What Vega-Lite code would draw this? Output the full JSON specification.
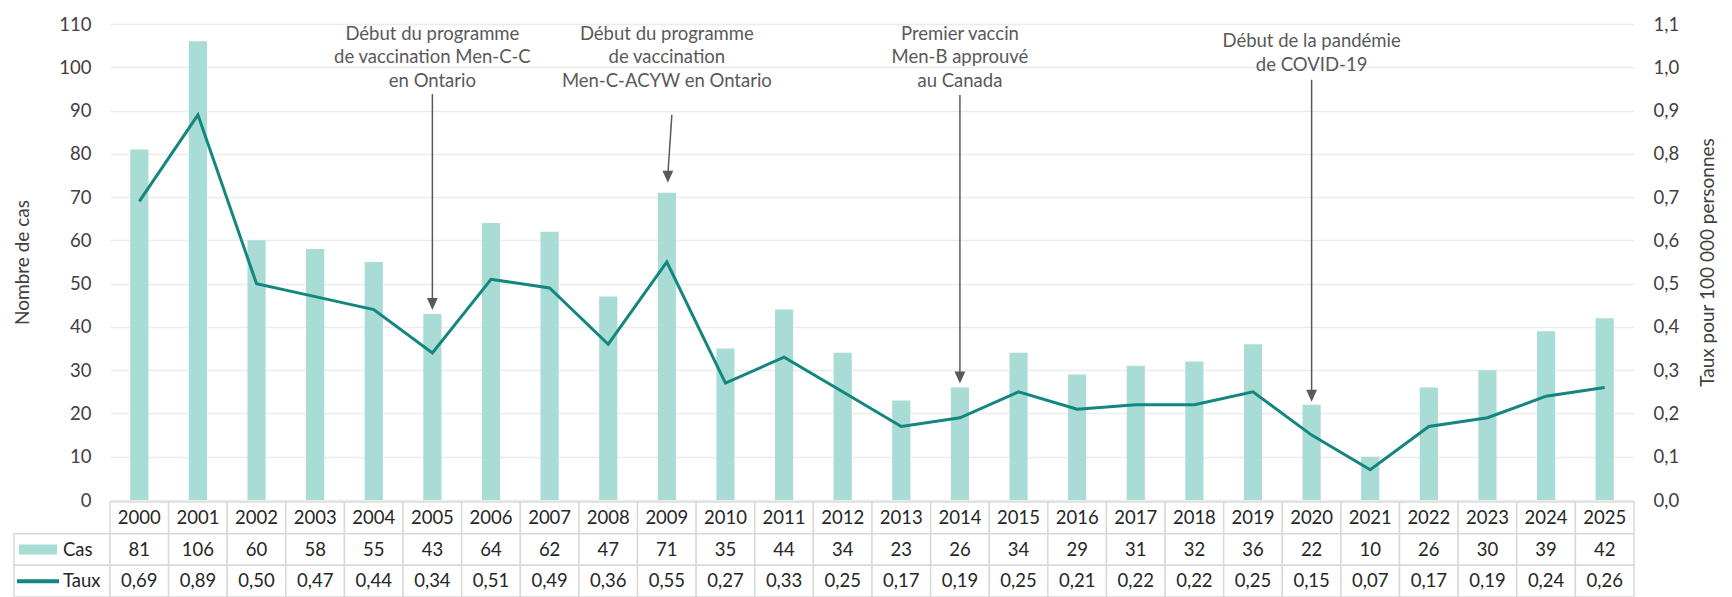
{
  "$schema": "https://vega.github.io/schema/vega-lite/v6.json",
  "padding": {"left": 13, "top": 15, "right": 4, "bottom": 0},
  "config": {
    "font": "Lato",
    "view": {"stroke": null},
    "locale": {"number": {"decimal": ",", "thousands": " ", "grouping": [3], "currency": ["", " $"]}},
    "axis": {"labelFont": "Lato", "titleFont": "Lato", "labelFontSize": 18.5, "titleFontSize": 19, "labelColor": "#404040", "titleColor": "#404040", "titleFontWeight": "normal"}
  },
  "datasets": {
    "cases": [
      {"year": 2000, "cas": 81, "taux": 0.69},
      {"year": 2001, "cas": 106, "taux": 0.89},
      {"year": 2002, "cas": 60, "taux": 0.50},
      {"year": 2003, "cas": 58, "taux": 0.47},
      {"year": 2004, "cas": 55, "taux": 0.44},
      {"year": 2005, "cas": 43, "taux": 0.34},
      {"year": 2006, "cas": 64, "taux": 0.51},
      {"year": 2007, "cas": 62, "taux": 0.49},
      {"year": 2008, "cas": 47, "taux": 0.36},
      {"year": 2009, "cas": 71, "taux": 0.55},
      {"year": 2010, "cas": 35, "taux": 0.27},
      {"year": 2011, "cas": 44, "taux": 0.33},
      {"year": 2012, "cas": 34, "taux": 0.25},
      {"year": 2013, "cas": 23, "taux": 0.17},
      {"year": 2014, "cas": 26, "taux": 0.19},
      {"year": 2015, "cas": 34, "taux": 0.25},
      {"year": 2016, "cas": 29, "taux": 0.21},
      {"year": 2017, "cas": 31, "taux": 0.22},
      {"year": 2018, "cas": 32, "taux": 0.22},
      {"year": 2019, "cas": 36, "taux": 0.25},
      {"year": 2020, "cas": 22, "taux": 0.15},
      {"year": 2021, "cas": 10, "taux": 0.07},
      {"year": 2022, "cas": 26, "taux": 0.17},
      {"year": 2023, "cas": 30, "taux": 0.19},
      {"year": 2024, "cas": 39, "taux": 0.24},
      {"year": 2025, "cas": 42, "taux": 0.26}
    ],
    "notes": [
      {"year": 2005, "label": "Début du programme\nde vaccination Men-C-C\nen Ontario", "top": 93.8, "tip": 43.9},
      {"year": 2009, "label": "Début du programme\nde vaccination\nMen-C-ACYW en Ontario", "top": 89, "tip": 73.3},
      {"year": 2014, "label": "Premier vaccin\nMen-B approuvé\nau Canada", "top": 93.6, "tip": 26.9},
      {"year": 2020, "label": "Début de la pandémie\nde COVID-19", "top": 97.1, "tip": 22.7}
    ],
    "series": [{"serie": "Cas"}, {"serie": "Taux"}]
  },
  "bounds": "flush",
  "spacing": 478,
  "vconcat": [
    {
      "bounds": "flush",
      "spacing": 0,
      "hconcat": [
        {"width": 96, "height": 476, "data": {"values": []}, "mark": "text", "encoding": {}},
        {
          "width": 1524,
          "height": 476,
          "resolve": {"scale": {"y": "independent"}},
          "layer": [
            {
              "layer": [
                {
                  "data": {"name": "cases"},
                  "mark": {"type": "bar", "color": "#a8dcd4", "width": {"band": 0.31}},
                  "encoding": {
                    "x": {"field": "year", "type": "ordinal", "axis": null, "scale": {"paddingInner": 0, "paddingOuter": 0}},
                    "y": {"field": "cas", "type": "quantitative", "title": "Nombre de cas",
                      "scale": {"domain": [0, 110], "nice": false},
                      "axis": {"values": [0, 10, 20, 30, 40, 50, 60, 70, 80, 90, 100, 110], "format": "d", "grid": true, "gridColor": "#ececec", "gridWidth": 1.3, "domain": false, "ticks": false, "labelPadding": 19, "titlePadding": 26}}
                  }
                },
                {
                  "data": {"name": "notes"},
                  "mark": {"type": "rule", "color": "#595959", "strokeWidth": 1.5, "y2Offset": -8, "xOffset": {"expr": "datum.year == 2009 ? 5 : 0"}, "x2Offset": {"expr": "datum.year == 2009 ? 1 : 0"}},
                  "encoding": {
                    "x": {"field": "year", "type": "ordinal"},
                    "x2": {"field": "year"},
                    "y": {"field": "top", "type": "quantitative", "title": "Nombre de cas"},
                    "y2": {"field": "tip"}
                  }
                },
                {
                  "data": {"name": "notes"},
                  "mark": {"type": "point", "shape": "M-0.9,-1L0.9,-1L0,1Z", "size": 144, "filled": true, "color": "#595959", "opacity": 1, "strokeWidth": 0, "yOffset": -6, "xOffset": {"expr": "datum.year == 2009 ? 1 : 0"}},
                  "encoding": {
                    "x": {"field": "year", "type": "ordinal"},
                    "y": {"field": "tip", "type": "quantitative", "title": "Nombre de cas"}
                  }
                },
                {
                  "data": {"name": "notes"},
                  "mark": {"type": "text", "fontSize": 18.5, "color": "#595959", "lineBreak": "\n", "lineHeight": 23.5, "baseline": "middle", "align": "center", "dy": {"expr": "length(split(datum.label, '\\n')) == 2 ? -16 : -23.5"}},
                  "encoding": {
                    "x": {"field": "year", "type": "ordinal"},
                    "y": {"datum": 102.3, "type": "quantitative", "title": "Nombre de cas"},
                    "text": {"field": "label"}
                  }
                }
              ]
            },
            {
              "data": {"name": "cases"},
              "mark": {"type": "line", "color": "#13867f", "strokeWidth": 3},
              "encoding": {
                "x": {"field": "year", "type": "ordinal"},
                "y": {"field": "taux", "type": "quantitative", "title": "Taux pour 100 000 personnes",
                  "scale": {"domain": [0, 1.1], "nice": false},
                  "axis": {"orient": "right", "values": [0, 0.1, 0.2, 0.3, 0.4, 0.5, 0.6, 0.7, 0.8, 0.9, 1.0, 1.1], "format": ".1f", "grid": false, "domain": false, "ticks": false, "labelPadding": 19, "titlePadding": 39, "titleAngle": -90}}
              }
            }
          ]
        }
      ]
    },
    {
      "bounds": "flush",
      "spacing": 0,
      "hconcat": [
        {
          "width": 96,
          "height": 95,
          "data": {"name": "series"},
          "layer": [
            {
              "mark": {"type": "rect", "fill": "white", "stroke": "#d9d9d9", "strokeWidth": 1.5},
              "encoding": {
                "y": {"field": "serie", "type": "nominal", "axis": null, "scale": {"domain": ["Année", "Cas", "Taux"], "paddingInner": 0, "paddingOuter": 0}}
              }
            },
            {
              "transform": [{"filter": "datum.serie == 'Cas'"}],
              "mark": {"type": "tick", "orient": "horizontal", "size": 38, "thickness": 10, "color": "#a8dcd4", "opacity": 1},
              "encoding": {
                "x": {"datum": "swatch", "type": "nominal", "axis": null, "scale": {"type": "band", "domain": ["swatch", "label"], "paddingInner": 0, "paddingOuter": 0}},
                "y": {"field": "serie", "type": "nominal"}
              }
            },
            {
              "transform": [{"filter": "datum.serie == 'Taux'"}],
              "mark": {"type": "tick", "orient": "horizontal", "size": 42, "thickness": 4, "color": "#13867f", "opacity": 1},
              "encoding": {
                "x": {"datum": "swatch", "type": "nominal"},
                "y": {"field": "serie", "type": "nominal"}
              }
            },
            {
              "mark": {"type": "text", "align": "left", "fontSize": 18.5, "color": "#262626", "dx": 1},
              "encoding": {
                "x": {"datum": "label", "type": "nominal", "bandPosition": 0},
                "y": {"field": "serie", "type": "nominal"},
                "text": {"field": "serie"}
              }
            }
          ]
        },
        {
          "width": 1524,
          "height": 95,
          "data": {"name": "cases"},
          "layer": [
            {
              "transform": [{"fold": ["year", "cas", "taux"], "as": ["row", "val"]}],
              "mark": {"type": "rect", "fill": "white", "stroke": "#d9d9d9", "strokeWidth": 1.5},
              "encoding": {
                "x": {"field": "year", "type": "ordinal", "axis": null, "scale": {"paddingInner": 0, "paddingOuter": 0}},
                "y": {"field": "row", "type": "nominal", "axis": null, "scale": {"domain": ["year", "cas", "taux"], "paddingInner": 0, "paddingOuter": 0}}
              }
            },
            {
              "mark": {"type": "text", "fontSize": 18.5, "color": "#262626"},
              "encoding": {
                "x": {"field": "year", "type": "ordinal"},
                "y": {"datum": "year", "type": "nominal"},
                "text": {"field": "year", "type": "ordinal"}
              }
            },
            {
              "mark": {"type": "text", "fontSize": 18.5, "color": "#262626"},
              "encoding": {
                "x": {"field": "year", "type": "ordinal"},
                "y": {"datum": "cas", "type": "nominal"},
                "text": {"field": "cas", "type": "quantitative", "format": "d"}
              }
            },
            {
              "mark": {"type": "text", "fontSize": 18.5, "color": "#262626"},
              "encoding": {
                "x": {"field": "year", "type": "ordinal"},
                "y": {"datum": "taux", "type": "nominal"},
                "text": {"field": "taux", "type": "quantitative", "format": ".2f"}
              }
            }
          ]
        }
      ]
    }
  ]
}
